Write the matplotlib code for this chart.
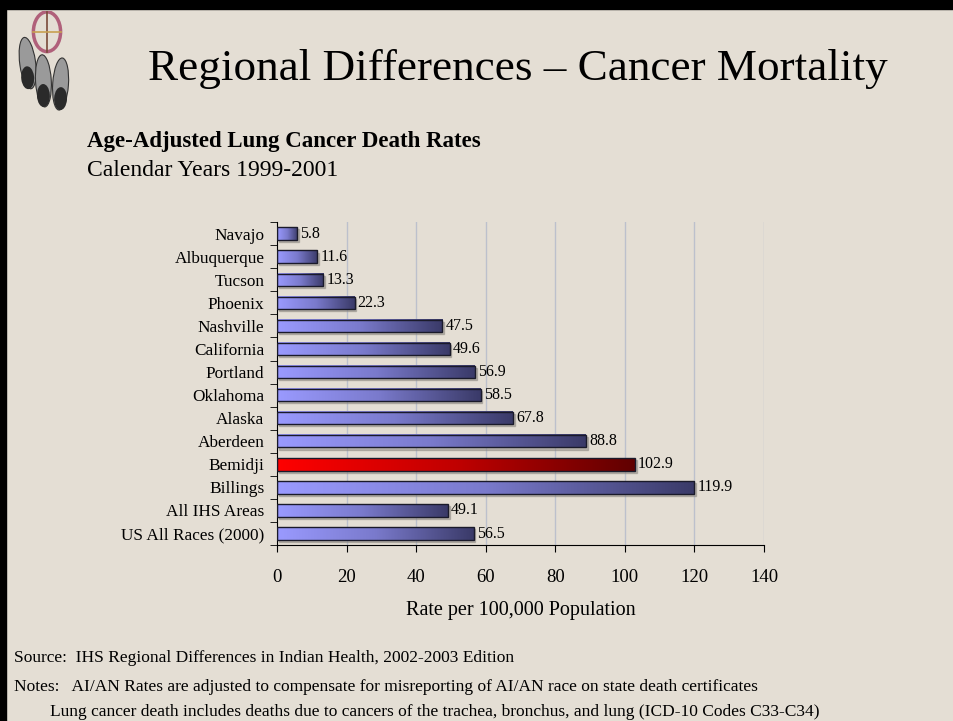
import numpy as np
import matplotlib.pyplot as plt
from matplotlib.patches import Rectangle, Circle, Ellipse
from matplotlib.colors import LinearSegmentedColormap

# data
areas = ['Navajo', 'Albuquerque', 'Tucson', 'Phoenix', 'Nashville', 'California',
         'Portland', 'Oklahoma', 'Alaska', 'Aberdeen', 'Bemidji', 'Billings',
         'All IHS Areas', 'US All Races (2000)']
rates = [5.8, 11.6, 13.3, 22.3, 47.5, 49.6, 56.9, 58.5, 67.8, 88.8, 102.9, 119.9, 49.1, 56.5]
highlight = 'Bemidji'
xticks = [0, 20, 40, 60, 80, 100, 120, 140]

bg = '#e4ded4'
plt.rcParams['font.family'] = ['Liberation Serif', 'DejaVu Serif']

fig = plt.figure(figsize=(9.54, 7.21), dpi=100, facecolor=bg)

# slide frame (black top and left edge)
fig.patches.append(Rectangle((0, 0.988), 1, 0.012, transform=fig.transFigure,
                             color='black', zorder=0))
fig.patches.append(Rectangle((0, 0), 0.006, 1, transform=fig.transFigure,
                             color='black', zorder=0))

# rough dreamcatcher logo
logo = fig.add_axes([0.008, 0.84, 0.075, 0.145])
logo.set_xlim(0, 1)
logo.set_ylim(0, 1)
logo.axis('off')
logo.add_patch(Circle((0.55, 0.8), 0.19, fill=False, ec='#b0607a', lw=2.5))
logo.plot([0.55, 0.55], [0.61, 0.99], color='#7a4a3a', lw=1.2)
logo.plot([0.36, 0.74], [0.8, 0.8], color='#c8a050', lw=1.2)
for cx, cy, a in [(0.28, 0.5, 12), (0.5, 0.33, 5), (0.74, 0.3, -6)]:
    logo.add_patch(Ellipse((cx, cy), 0.22, 0.5, angle=a, fc='#9a9a9a', ec='#333333', lw=0.8))
    logo.add_patch(Ellipse((cx, cy - 0.14), 0.18, 0.22, angle=a, fc='#2a2a2a', ec='none'))

fig.text(0.543, 0.904, 'Regional Differences \u2013 Cancer Mortality', ha='center',
         va='center', fontsize=32.5, color='black')
fig.text(0.091, 0.804, 'Age-Adjusted Lung Cancer Death Rates', ha='left', va='center',
         fontsize=16.5, fontweight='bold')
fig.text(0.091, 0.764, 'Calendar Years 1999-2001', ha='left', va='center', fontsize=17)

ax = fig.add_axes([0.2904, 0.244, 0.5105, 0.448])
ax.set_facecolor('none')

# vertical gridlines
for t in xticks[1:]:
    ax.axvline(t, color='#bcc0cc', lw=1, zorder=0)

grad = np.linspace(0, 1, 256).reshape(1, -1)
blue = LinearSegmentedColormap.from_list('b', ['#9a9aff', '#7a7acc', '#3a3a68'])
red = LinearSegmentedColormap.from_list('r', ['#ff0000', '#c00000', '#600000'])
h = 0.54
for i, (name, v) in enumerate(zip(areas, rates)):
    cmap = red if name == highlight else blue
    # shadow
    ax.add_patch(Rectangle((0.5, i - h / 2 + 0.09), v, h, color='#8a8680', alpha=0.5, zorder=1))
    ax.imshow(grad, cmap=cmap, aspect='auto', extent=[0, v, i + h / 2, i - h / 2],
              zorder=2, interpolation='bilinear')
    ax.add_patch(Rectangle((0, i - h / 2), v, h, fill=False, ec='#1a1a2a', lw=1, zorder=3))
    ax.text(v + 0.9, i, f'{v:.1f}', va='center', ha='left', fontsize=11.5, zorder=4)

ax.set_xlim(0, 140)
ax.set_ylim(len(areas) - 0.5, -0.5)

ax.set_xticks(xticks)
ax.set_xticklabels([str(t) for t in xticks], fontsize=13.5)
ax.tick_params(axis='x', length=5, pad=12, color='black')
ax.set_yticks(range(len(areas)))
ax.set_yticklabels(areas, fontsize=12.4)
ax.tick_params(axis='y', length=0, pad=9)
ax.set_yticks(np.arange(-0.5, len(areas), 1), minor=True)
ax.tick_params(axis='y', which='minor', length=5, color='black')
for s in ['top', 'right']:
    ax.spines[s].set_visible(False)
ax.set_xlabel('Rate per 100,000 Population', fontsize=14.5, labelpad=11)

fig.text(0.0147, 0.087, 'Source:  IHS Regional Differences in Indian Health, 2002-2003 Edition',
         ha='left', va='center', fontsize=12.5)
fig.text(0.0147, 0.047, 'Notes:   AI/AN Rates are adjusted to compensate for misreporting of AI/AN race on state death certificates',
         ha='left', va='center', fontsize=12.5)
fig.text(0.052, 0.012, 'Lung cancer death includes deaths due to cancers of the trachea, bronchus, and lung (ICD-10 Codes C33-C34)',
         ha='left', va='center', fontsize=12.5)

fig.savefig('out.png', dpi=100, facecolor=bg)
